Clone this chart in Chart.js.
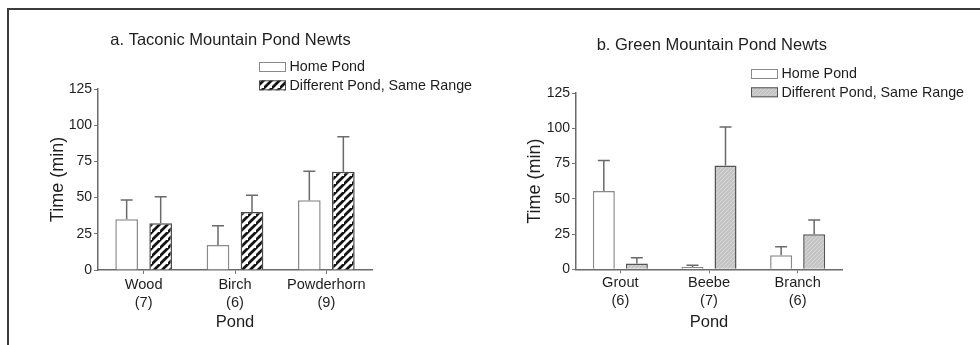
<!DOCTYPE html>
<html>
<head>
<meta charset="utf-8">
<script src="https://cdn.jsdelivr.net/npm/chart.js@4/dist/chart.umd.min.js"></script>
<style>
  html, body { margin: 0; padding: 0; background: #fff; width: 980px; height: 345px; overflow: hidden; }
  #frame { position: absolute; left: 7px; top: 8px; width: 980px; height: 345px; border-top: 2px solid #3c3c3c; border-left: 2px solid #3c3c3c; }
  canvas { position: absolute; top: 0; }
  #cA { left: 0; }
  #cB { left: 490px; }
</style>
</head>
<body>
<div id="frame"></div>
<canvas id="cA" width="490" height="345"></canvas>
<canvas id="cB" width="490" height="345"></canvas>
<script>
// ---- data (panel a) ----
const titleA = 'a. Taconic Mountain Pond Newts';
const pondsA = ['Wood', 'Birch', 'Powderhorn'];
const nA = [7, 6, 9];
const homeA = [35.0, 17.3, 48.1];
const homeErrA = [13.3, 13.3, 20.1];
const diffA = [32.2, 40.0, 67.9];
const diffErrA = [18.4, 11.6, 24.2];

// ---- data (panel b) ----
const titleB = 'b. Green Mountain Pond Newts';
const pondsB = ['Grout', 'Beebe', 'Branch'];
const nB = [6, 7, 6];
const homeB = [55.6, 1.6, 9.9];
const homeErrB = [21.5, 1.2, 6.1];
const diffB = [4.2, 73.6, 24.8];
const diffErrB = [4.0, 27.3, 10.1];

const seriesLabels = ['Home Pond', 'Different Pond, Same Range'];
const yTicks = [0, 25, 50, 75, 100, 125];
const yTitle = 'Time (min)';
const xTitle = 'Pond';

const FONT = '"Liberation Sans", Arial, Helvetica, sans-serif';

function stripePattern() {
  const s = 8;
  const c = document.createElement('canvas');
  c.width = s; c.height = s;
  const g = c.getContext('2d');
  g.fillStyle = '#ffffff'; g.fillRect(0, 0, s, s);
  g.strokeStyle = '#141414'; g.lineWidth = 2.7; g.lineCap = 'square';
  g.beginPath();
  g.moveTo(-2, s + 2); g.lineTo(s + 2, -2);
  g.moveTo(-2 - s, s + 2); g.lineTo(2, -2);
  g.moveTo(s - 2, 2 * s + 2); g.lineTo(2 * s + 2, s - 2);
  g.stroke();
  return g.createPattern(c, 'repeat');
}
function greyPattern() {
  const s = 4;
  const c = document.createElement('canvas');
  c.width = s; c.height = s;
  const g = c.getContext('2d');
  g.fillStyle = '#c4c4c4'; g.fillRect(0, 0, s, s);
  g.strokeStyle = '#d6d6d6'; g.lineWidth = 1;
  g.beginPath();
  g.moveTo(0, s); g.lineTo(s, 0);
  g.stroke();
  return g.createPattern(c, 'repeat');
}

const errorBarPlugin = {
  id: 'errorBars',
  afterDatasetsDraw(chart) {
    const ctx = chart.ctx;
    const y = chart.scales.y;
    ctx.save();
    ctx.strokeStyle = '#6a6a6a';
    ctx.lineWidth = 1.5;
    chart.data.datasets.forEach((ds, i) => {
      const meta = chart.getDatasetMeta(i);
      meta.data.forEach((bar, j) => {
        const top = y.getPixelForValue(ds.data[j] + ds.errors[j]);
        ctx.beginPath();
        ctx.moveTo(bar.x, bar.y);
        ctx.lineTo(bar.x, top);
        ctx.moveTo(bar.x - 6, top);
        ctx.lineTo(bar.x + 6, top);
        ctx.stroke();
      });
    });
    ctx.restore();
  }
};

const headerPlugin = {
  id: 'header',
  afterDraw(chart, args, opts) {
    const ctx = chart.ctx;
    ctx.save();
    ctx.fillStyle = '#1e1e1e';
    ctx.textBaseline = 'middle';
    ctx.textAlign = 'center';
    ctx.font = '16.5px ' + FONT;
    ctx.fillText(opts.title, opts.titleX, opts.titleY);
    ctx.textAlign = 'left';
    ctx.font = '14.3px ' + FONT;
    chart.data.datasets.forEach((ds, i) => {
      const cy = opts.legendY + i * opts.legendGap;
      ctx.fillStyle = ds.backgroundColor;
      ctx.fillRect(opts.legendX, cy - 5, 27, 10);
      ctx.strokeStyle = ds.borderColor;
      ctx.lineWidth = 1;
      ctx.strokeRect(opts.legendX + 0.5, cy - 4.5, 26, 9);
      ctx.fillStyle = '#1e1e1e';
      ctx.fillText(ds.label, opts.legendX + 30.5, cy + 0.5);
    });
    ctx.restore();
  }
};

function makeChart(id, ponds, ns, home, homeErr, diff, diffErr, diffFill, diffBorder, lay) {
  const labels = ponds.map((p, i) => [p, '(' + ns[i] + ')']);
  return new Chart(document.getElementById(id), {
    type: 'bar',
    data: {
      labels: labels,
      datasets: [
        { label: seriesLabels[0], data: home, errors: homeErr, backgroundColor: '#ffffff', borderColor: '#8a8a8a', borderWidth: 1.5 },
        { label: seriesLabels[1], data: diff, errors: diffErr, backgroundColor: diffFill, borderColor: diffBorder, borderWidth: 1.5 }
      ]
    },
    options: {
      responsive: false,
      animation: false,
      devicePixelRatio: 1,
      categoryPercentage: 0.745,
      barPercentage: 0.667,
      layout: { padding: { left: lay.left, right: lay.right, top: lay.top, bottom: 2 } },
      plugins: {
        legend: { display: false },
        tooltip: { enabled: false },
        header: lay.header
      },
      scales: {
        x: {
          afterFit(s) { s.height = lay.xh; },
          grid: { display: true, drawOnChartArea: false, drawTicks: true, tickLength: 4, offset: false, color: '#777' },
          border: { display: true, color: '#6a6a6a', width: 1.5 },
          ticks: { color: '#1e1e1e', font: { family: FONT, size: 14.6, lineHeight: 1.2 }, padding: lay.xpad, maxRotation: 0, autoSkip: false },
          title: { display: true, text: xTitle, color: '#1e1e1e', font: { family: FONT, size: 16.5 }, padding: { top: 0, bottom: 10.4 } }
        },
        y: {
          min: yTicks[0], max: yTicks[yTicks.length - 1],
          afterFit(s) { s.width = lay.yw; },
          afterBuildTicks(s) { s.ticks = yTicks.map(v => ({ value: v })); },
          grid: { display: true, drawOnChartArea: false, drawTicks: true, tickLength: 4, color: '#777' },
          border: { display: true, color: '#6a6a6a', width: 1.5 },
          ticks: { color: '#1e1e1e', font: { family: FONT, size: 14 }, padding: 2 },
          title: { display: true, text: yTitle, color: '#1e1e1e', font: { family: FONT, size: 18 }, padding: { top: lay.ytp, bottom: 0 } }
        }
      }
    },
    plugins: [errorBarPlugin, headerPlugin]
  });
}

makeChart('cA', pondsA, nA, homeA, homeErrA, diffA, diffErrA, stripePattern(), '#4a4a4a', {
  left: 40, right: 118, top: 89, xh: 73, yw: 58, ytp: 7.2, xpad: 2.2,
  header: { title: titleA, titleX: 230.5, titleY: 40, legendX: 259, legendY: 67, legendGap: 18.3 }
});
makeChart('cB', pondsB, nB, homeB, homeErrB, diffB, diffErrB, greyPattern(), '#555555', {
  left: 30, right: 138, top: 93, xh: 73.7, yw: 56, ytp: 4.2, xpad: 1.2,
  header: { title: titleB, titleX: 221.8, titleY: 45, legendX: 261, legendY: 74, legendGap: 18.3 }
});
</script>
</body>
</html>
